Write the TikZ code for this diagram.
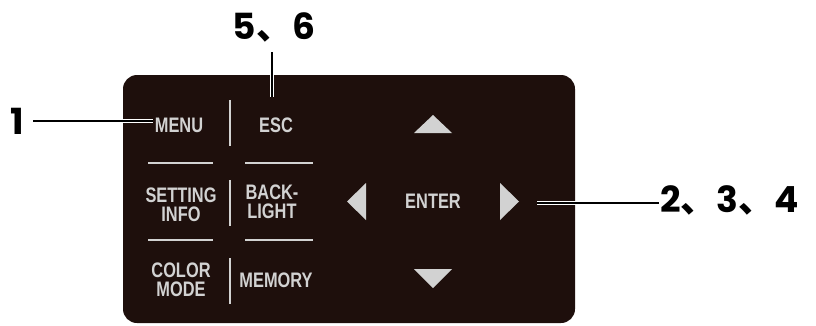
\documentclass[tikz,border=0pt]{standalone}
\usepackage{fontspec}
\newfontfamily\panelfont[FakeStretch=0.78]{Liberation Sans Bold}
\newfontfamily\lblfont{Poppins}
\newfontfamily\cjkfont{Noto Sans CJK SC}
\usetikzlibrary{positioning}
\definecolor{panelbg}{HTML}{1E0F0C}
\definecolor{keygray}{HTML}{D2D2D2}

\begin{document}
\begin{tikzpicture}[x=1pt,y=-1pt,
  keytext/.style={font=\panelfont\fontsize{21}{19}\selectfont, text=keygray, align=center, inner sep=0pt},
  callout/.style={font=\lblfont\bfseries\fontsize{36}{36}\selectfont, inner sep=0pt},
  divider/.style={keygray, line width=1.2pt},
  leader/.style={draw=white, line width=1.3pt, double=black, double distance=2pt}]
\useasboundingbox (0,0) rectangle (816,325);
% panneau
\fill[panelbg, rounded corners=14pt] (123,75) rectangle (575,323);
\foreach \ya/\yb in {100/146,180/226,258/304} {
    \draw[divider] (230,\ya) -- (230,\yb);
}
\foreach \yy in {163,240} {
    \draw[divider] (148,\yy) -- (213,\yy);
    \draw[divider] (245,\yy) -- (313,\yy);
}

% touches
\node[keytext] (menu) at (179,125) {MENU};
\node[keytext] (esc) at (276,125) {ESC};
\node[keytext] (setinfo) at (181,205) {SETTING\\INFO};
\node[keytext] (backlight) at (272,202) {BACK-\\LIGHT};
\node[keytext] (colormode) at (181,280) {COLOR\\MODE};
\node[keytext] (memory) at (276,280) {MEMORY};
\node[keytext] (enter) at (433,201) {ENTER};

% fleches
\fill[keygray] (414,133) -- (433,115) -- (452,133) -- cycle;
\fill[keygray] (414,269) -- (433,288) -- (452,269) -- cycle;
\fill[keygray] (366,183) -- (347,201.5) -- (366,220) -- cycle;
\fill[keygray] (500,183) -- (519,201.5) -- (500,220) -- cycle;
\coordinate (kright) at (519,201.5);

% reperes
\node[callout, anchor=east] (l1) at (24,121) {1};
\node[callout] (l56) at (274,27.5) {5{\cjkfont 、}6};
\node[callout, anchor=west] (l234) at (660,200) {2{\cjkfont 、}3{\cjkfont 、}4};
\draw[leader] ([xshift=9pt]l1.east) -- ([xshift=-2pt]l1.east -| menu.west);
\draw[leader] ([xshift=-2pt,yshift=-10pt]l56.south) -- ([xshift=-4pt,yshift=20pt]esc.north);
\draw[leader] ([xshift=18pt,yshift=-1.5pt]kright) -- ([xshift=-1pt,yshift=-1.5pt]kright -| l234.west);
\end{tikzpicture}
\end{document}
